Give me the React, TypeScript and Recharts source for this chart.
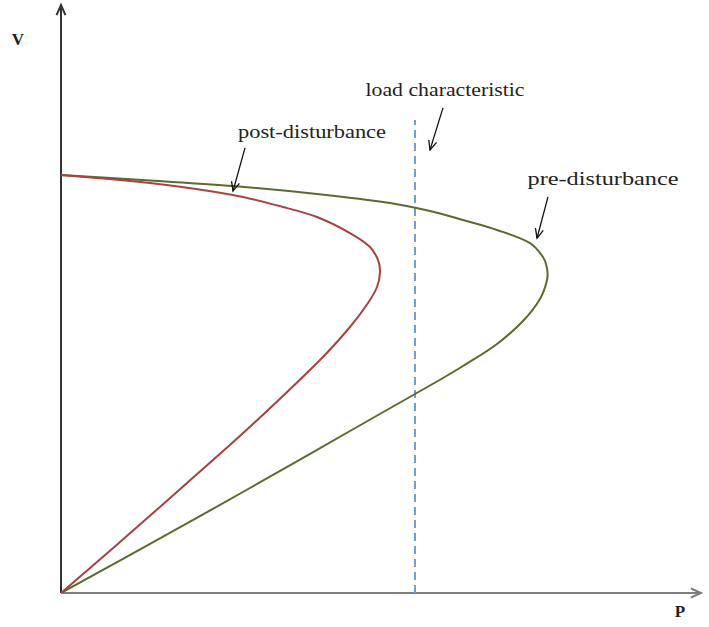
import React from 'react';
import { LineChart, Line, XAxis, YAxis, ReferenceLine, ReferenceDot } from 'recharts';

// Pre-disturbance PV curve (lower branch -> nose -> upper branch)
const preP = [0, 0.2225, 0.4725, 0.7225, 0.885, 0.955, 1.005, 1.09, 1.155, 1.1975, 1.215, 1.215, 1.205, 1.1725, 1.09, 1.005, 0.9225, 0.8225, 0.64, 0.43, 0.2225, 0];
const preV = [0, 0.1167, 0.25, 0.3857, 0.4738, 0.5119, 0.5405, 0.5929, 0.6476, 0.7, 0.7452, 0.7738, 0.8, 0.8333, 0.8643, 0.8881, 0.9095, 0.9286, 0.95, 0.969, 0.9821, 0.9952];

// Post-disturbance PV curve
const postP = [0, 0.1475, 0.315, 0.48, 0.6475, 0.7225, 0.7675, 0.79, 0.7975, 0.7925, 0.7725, 0.7225, 0.64, 0.555, 0.43, 0.2225, 0];
const postV = [0, 0.1214, 0.2619, 0.4024, 0.5548, 0.6333, 0.6905, 0.7286, 0.7643, 0.7929, 0.8238, 0.8571, 0.8952, 0.919, 0.9476, 0.9762, 0.9952];

// Load characteristic (constant power)
const loadP = 0.885;
const loadTopV = 1.126;

const pDomain = [0, 1.6];
const vDomain = [0, 1.4];

const labels = [
  { text: 'load characteristic', p: 0.96, v: 1.2, width: 159 },
  { text: 'post-disturbance', p: 0.6275, v: 1.098, width: 148 },
  { text: 'pre-disturbance', p: 1.355, v: 0.988, width: 151 },
];
const pointers = [
  { from: { x: 0.46, y: 1.06 }, to: { x: 0.43, y: 0.957 } },
  { from: { x: 0.955, y: 1.155 }, to: { x: 0.9225, y: 1.055 } },
  { from: { x: 1.2175, y: 0.943 }, to: { x: 1.19, y: 0.845 } },
];

const preData = preP.map((p, i) => ({ p, v: preV[i] }));
const postData = postP.map((p, i) => ({ p, v: postV[i] }));

const FONT = '"Liberation Serif", "DejaVu Serif", serif';

// chord-length weighted Catmull-Rom curve (parametric, handles the nose)
function smoothCurve(context: any) {
  let pts: number[][] = [];
  return {
    areaStart() {},
    areaEnd() {},
    lineStart() {
      pts = [];
    },
    point(x: number, y: number) {
      pts.push([+x, +y]);
    },
    lineEnd() {
      if (!pts.length) return;
      context.moveTo(pts[0][0], pts[0][1]);
      const d = (a: number[], b: number[]) => Math.hypot(b[0] - a[0], b[1] - a[1]) || 1e-6;
      for (let i = 0; i < pts.length - 1; i++) {
        const p0 = pts[i - 1] || pts[i];
        const p1 = pts[i];
        const p2 = pts[i + 1];
        const p3 = pts[i + 2] || pts[i + 1];
        const d12 = d(p1, p2);
        const s1 = d(p0, p1) + d12;
        const s2 = d12 + d(p2, p3);
        const c1x = p1[0] + ((p2[0] - p0[0]) / s1) * (d12 / 3);
        const c1y = p1[1] + ((p2[1] - p0[1]) / s1) * (d12 / 3);
        const c2x = p2[0] - ((p3[0] - p1[0]) / s2) * (d12 / 3);
        const c2y = p2[1] - ((p3[1] - p1[1]) / s2) * (d12 / 3);
        context.bezierCurveTo(c1x, c1y, c2x, c2y, p2[0], p2[1]);
      }
    },
  };
}

function arrowShape(color: string, width: number, head: number) {
  return (props: any) => {
    const { x1, y1, x2, y2 } = props;
    const ang = Math.atan2(y2 - y1, x2 - x1);
    const a1 = ang + Math.PI - 0.42;
    const a2 = ang + Math.PI + 0.42;
    return (
      <g>
        <line x1={x1} y1={y1} x2={x2} y2={y2} stroke={color} strokeWidth={width} />
        <polyline
          points={`${x2 + head * Math.cos(a1)},${y2 + head * Math.sin(a1)} ${x2},${y2} ${x2 + head * Math.cos(a2)},${y2 + head * Math.sin(a2)}`}
          fill="none"
          stroke={color}
          strokeWidth={width}
        />
      </g>
    );
  };
}

function textShape(text: string, size: number, bold = false, width?: number) {
  return (props: any) => (
    <text
      x={props.cx}
      y={props.cy}
      textAnchor="middle"
      dominantBaseline="central"
      fontFamily={FONT}
      fontSize={size}
      fontWeight={bold ? 'bold' : 'normal'}
      fill="#222"
      {...(width ? { textLength: width, lengthAdjust: 'spacingAndGlyphs' } : {})}
    >
      {text}
    </text>
  );
}

export default function App() {
  return (
    <div style={{ position: 'absolute', left: 0, top: 0, background: '#fff' }}>
      <LineChart width={709} height={627} margin={{ top: 5, right: 8, bottom: 34, left: 61 }}>
        <XAxis type="number" dataKey="p" domain={pDomain} hide allowDataOverflow />
        <YAxis type="number" dataKey="v" domain={vDomain} hide allowDataOverflow />

        {/* axes */}
        <ReferenceLine
          ifOverflow="visible"
          segment={[{ x: 0, y: 0 }, { x: 1.6, y: 0 }]}
          shape={arrowShape('#7f7f7f', 2, 11)}
        />
        <ReferenceLine
          ifOverflow="visible"
          segment={[{ x: 0, y: 0 }, { x: 0, y: 1.4 }]}
          shape={arrowShape('#333', 2, 11)}
        />

        {/* load characteristic */}
        <ReferenceLine
          ifOverflow="visible"
          segment={[{ x: loadP, y: 0 }, { x: loadP, y: loadTopV }]}
          stroke="#6f9fd8"
          strokeWidth={2}
          strokeDasharray="8 5"
        />

        <Line
          data={preData}
          dataKey="v"
          type={smoothCurve as any}
          stroke="#5a6b2f"
          strokeWidth={2}
          dot={false}
          isAnimationActive={false}
        />
        <Line
          data={postData}
          dataKey="v"
          type={smoothCurve as any}
          stroke="#a6423f"
          strokeWidth={2}
          dot={false}
          isAnimationActive={false}
        />

        {pointers.map((a, i) => (
          <ReferenceLine key={'a' + i} ifOverflow="visible" segment={[a.from, a.to]} shape={arrowShape('#111', 1.3, 10)} />
        ))}
        {labels.map((l, i) => (
          <ReferenceDot key={'l' + i} x={l.p} y={l.v} r={0} ifOverflow="visible" shape={textShape(l.text, 19, false, l.width)} />
        ))}
        <ReferenceDot x={-0.1075} y={1.318} r={0} ifOverflow="visible" shape={textShape('V', 17, true)} />
        <ReferenceDot x={1.5475} y={-0.043} r={0} ifOverflow="visible" shape={textShape('P', 17, true)} />
      </LineChart>
    </div>
  );
}
